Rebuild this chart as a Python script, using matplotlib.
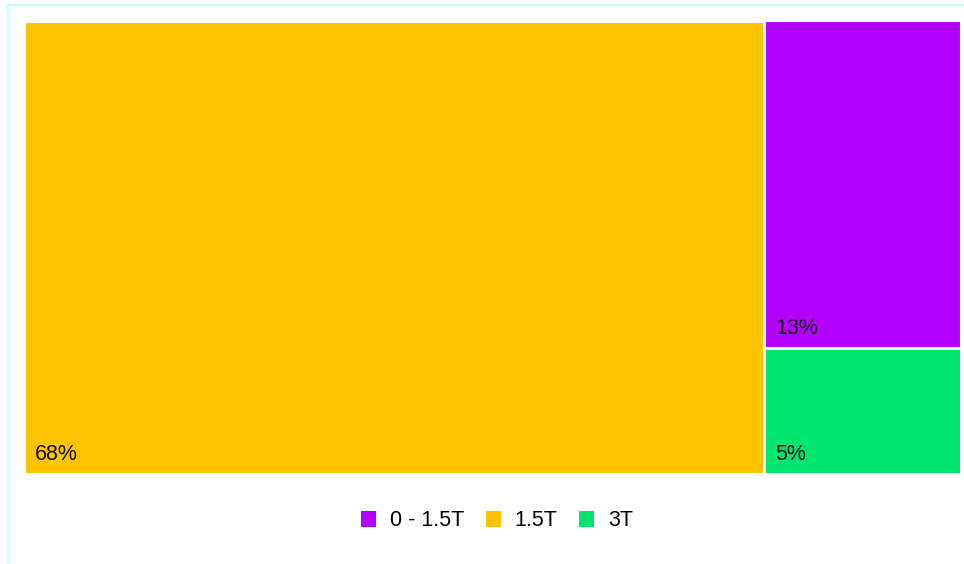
import matplotlib
matplotlib.use("Agg")
import matplotlib.pyplot as plt
from matplotlib.patches import Rectangle, Patch
from matplotlib.lines import Line2D

# data
labels = ["0 - 1.5T", "1.5T", "3T"]
values = [13, 68, 5]
colors = ["#B400FF", "#FFC300", "#00E56E"]

plt.rcParams["font.family"] = ["Liberation Sans", "DejaVu Sans"]

W, H = 964, 564
fig = plt.figure(figsize=(W / 100, H / 100), dpi=100)
fig.patch.set_facecolor("white")

# plot area in pixels (left, top, right, bottom)
L, T, R, B = 23.5, 20.5, 960.5, 473.5
ax = fig.add_axes([L / W, 1 - B / H, (R - L) / W, (B - T) / H])
ax.set_xlim(0, 1)
ax.set_ylim(0, 1)
ax.axis("off")

# simple treemap: biggest on the left, the rest stacked in one column
order = sorted(range(len(values)), key=lambda i: -values[i])
total = float(sum(values))
big = order[0]
w0 = values[big] / total
rects = {big: (0, 0, w0, 1)}
rest = order[1:]
rest_total = float(sum(values[i] for i in rest))
ytop = 1.0
for i in rest:
    h = values[i] / rest_total
    rects[i] = (w0, ytop - h, 1 - w0, h)
    ytop -= h

px_x = 1.0 / (R - L)
px_y = 1.0 / (B - T)
for i, (x, y, w, h) in rects.items():
    ax.add_patch(Rectangle((x, y), w, h, facecolor=colors[i],
                           edgecolor="white", linewidth=2.2, clip_on=False))
    ax.text(x + 11 * px_x, y + 14 * px_y, f"{values[i]}%",
            fontsize=15.5, color="#111111", ha="left", va="baseline")

handles = [Patch(facecolor=c, edgecolor="none") for c in colors]
fig.legend(handles, labels, loc="center", bbox_to_anchor=(497 / W, 1 - 521 / H),
           ncol=3, frameon=False, fontsize=15.5, handlelength=0.7,
           handleheight=0.7, handletextpad=0.65, columnspacing=1.0)

# faint frame lines at the top and left
frame_col = "#CCFDFD"
fig.add_artist(Line2D([8 / W, 1], [1 - 5 / H, 1 - 5 / H], color=frame_col, lw=1.5))
fig.add_artist(Line2D([8 / W, 8 / W], [0, 1 - 5 / H], color=frame_col, lw=1.5))

fig.savefig("out.png", dpi=100)
